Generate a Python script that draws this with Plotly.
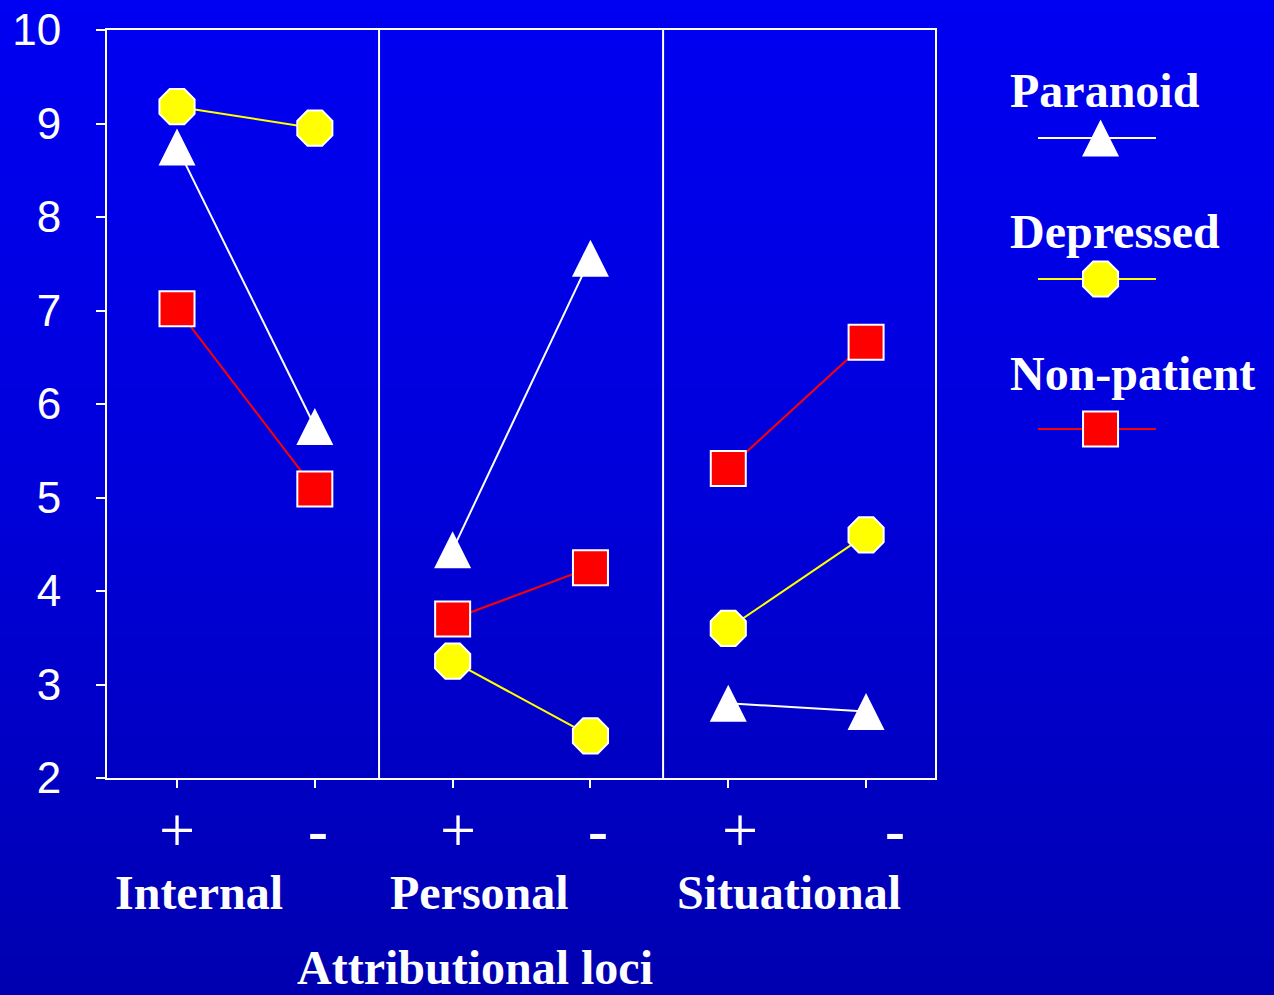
import plotly.graph_objects as go

W, H = 1274, 995

# ---------------- data ----------------
categories = ["Internal +", "Internal -", "Personal +", "Personal -", "Situational +", "Situational -"]
x_pos = [0, 1, 2, 3, 4, 5]
groups = [[0, 1], [2, 3], [4, 5]]  # indices of the points joined within each locus
paranoid = [8.75, 5.76, 4.44, 7.56, 2.80, 2.71]
depressed = [9.18, 8.95, 3.25, 2.45, 3.60, 4.60]
non_patient = [7.02, 5.09, 3.70, 4.25, 5.31, 6.66]
y_ticks = [2, 3, 4, 5, 6, 7, 8, 9, 10]
sign_labels = ["+", "-", "+", "-", "+", "-"]
group_labels = ["Internal", "Personal", "Situational"]
series_names = ["Paranoid", "Depressed", "Non-patient"]
x_title = "Attributional loci"

# ---------------- layout constants (pixels) ----------------
PL, PR, PT, PB = 107, 935, 30, 778
X_RANGE = [-0.508, 5.50]
Y_RANGE = [2, 10]
DIVIDERS = [1.466, 3.527]
TRI = 37
OCT = 38
SQ = 35
px_per_unit = (PB - PT) / (Y_RANGE[1] - Y_RANGE[0])
shift = (TRI / 2) / px_per_unit

SERIF = "Liberation Serif"
SANS = "Liberation Sans"
WHITE = "#ffffff"
YEL = "#ffff00"
RED = "#ff0000"


def fx(p):
    return p / W


def fy(p):
    return 1 - p / H


def segmented(vals):
    xs, ys = [], []
    for g in groups:
        for i in g:
            xs.append(x_pos[i])
            ys.append(vals[i])
        xs.append(None)
        ys.append(None)
    return xs, ys


fig = go.Figure()

# lines (only within each locus)
for vals, col, name in [(paranoid, WHITE, series_names[0]),
                        (depressed, YEL, series_names[1]),
                        (non_patient, RED, series_names[2])]:
    xs, ys = segmented(vals)
    fig.add_trace(go.Scatter(x=xs, y=ys, mode="lines", name=name,
                             line=dict(color=col, width=2), xaxis="x", yaxis="y",
                             showlegend=False, hoverinfo="skip", connectgaps=False))

fig.add_trace(go.Scatter(x=x_pos, y=depressed, mode="markers", name=series_names[1],
                         marker=dict(symbol="octagon", size=OCT, color=YEL,
                                     line=dict(color=WHITE, width=2)),
                         xaxis="x", yaxis="y", showlegend=False))
fig.add_trace(go.Scatter(x=x_pos, y=non_patient, mode="markers", name=series_names[2],
                         marker=dict(symbol="square", size=SQ, color=RED,
                                     line=dict(color=WHITE, width=2)),
                         xaxis="x", yaxis="y", showlegend=False))
# Paranoid markers: arrow-up drawn on an overlay axis shifted by half the marker height,
# so each triangle is centred on its value
fig.add_trace(go.Scatter(x=x_pos, y=paranoid, mode="markers", name=series_names[0],
                         marker=dict(symbol="arrow-up", size=TRI, color=WHITE,
                                     line=dict(width=0)),
                         xaxis="x", yaxis="y3", showlegend=False))

# ---------------- custom legend ----------------
LEG_ROWS = [138, 279, 429]
LEG_TEXT_ROWS = [91, 232, 374]
LEG_MARK_X = 0.53
leg_styles = [
    dict(color=WHITE, symbol="arrow-up", size=TRI, mcolor=WHITE, lw=0),
    dict(color=YEL, symbol="octagon", size=OCT, mcolor=YEL, lw=2),
    dict(color=RED, symbol="square", size=SQ, mcolor=RED, lw=2),
]
for i, (name, row, trow, st) in enumerate(zip(series_names, LEG_ROWS, LEG_TEXT_ROWS, leg_styles)):
    fig.add_trace(go.Scatter(x=[0, 1], y=[row, row], mode="lines",
                             line=dict(color=st["color"], width=2),
                             xaxis="x2", yaxis="y2", showlegend=False, hoverinfo="skip"))
    fig.add_trace(go.Scatter(x=[LEG_MARK_X], y=[row], mode="markers",
                             marker=dict(symbol=st["symbol"], size=st["size"], color=st["mcolor"],
                                         line=dict(color=WHITE, width=st["lw"])),
                             xaxis="x2", yaxis="y4" if i == 0 else "y2",
                             showlegend=False, hoverinfo="skip"))
    fig.add_annotation(x=fx(1008), y=fy(trow), xref="paper", yref="paper",
                       text=f"<b>{name}</b>", showarrow=False, xanchor="left", yanchor="middle",
                       font=dict(family=SERIF, size=48, color=WHITE))

# ---------------- background gradient ----------------
stops = [(0.0, 0xF2), (0.5, 0xDA), (1.0, 0xB0)]


def blue_at(t):
    for (t0, c0), (t1, c1) in zip(stops[:-1], stops[1:]):
        if t <= t1:
            return c0 + (c1 - c0) * (t - t0) / (t1 - t0)
    return stops[-1][1]


shapes = []
NB = 100
for i in range(NB):
    t = (i + 0.5) / NB
    b = int(round(blue_at(t)))
    shapes.append(dict(type="rect", xref="paper", yref="paper", x0=0, x1=1,
                       y0=max(0, 1 - (i + 1) / NB - 0.002), y1=1 - i / NB,
                       fillcolor=f"rgb(0,0,{b})", line=dict(width=0), layer="below"))
for d in DIVIDERS:
    shapes.append(dict(type="line", xref="x", yref="y", x0=d, x1=d, y0=Y_RANGE[0], y1=Y_RANGE[1],
                       line=dict(color=WHITE, width=2)))

# ---------------- text annotations ----------------
SIGN_X = [177, 317.5, 457.8, 598, 739.5, 895]
for lab, sx in zip(sign_labels, SIGN_X):
    if lab == "+":
        fig.add_annotation(x=fx(sx), y=fy(830), xref="paper", yref="paper", text=lab,
                           showarrow=False, xanchor="center", yanchor="middle",
                           font=dict(family=SERIF, size=64, color=WHITE))
    else:
        fig.add_annotation(x=fx(sx), y=fy(830), xref="paper", yref="paper", text="<b>-</b>",
                           showarrow=False, xanchor="center", yanchor="middle",
                           font=dict(family=SERIF, size=60, color=WHITE))

GROUP_X = [198.5, 479, 789]
for lab, gx in zip(group_labels, GROUP_X):
    fig.add_annotation(x=fx(gx), y=fy(892), xref="paper", yref="paper", text=f"<b>{lab}</b>",
                       showarrow=False, xanchor="center", yanchor="middle",
                       font=dict(family=SERIF, size=48, color=WHITE))

fig.add_annotation(x=fx(475), y=0, xref="paper", yref="paper", text=f"<b>{x_title}</b>",
                   showarrow=False, xanchor="center", yanchor="bottom", borderpad=0,
                   font=dict(family=SERIF, size=48, color=WHITE))

axis_common = dict(showgrid=False, zeroline=False, fixedrange=True, automargin=False)

fig.update_layout(
    template="none",
    width=W, height=H,
    margin=dict(l=0, r=0, t=0, b=0, pad=0, autoexpand=False),
    paper_bgcolor="#0000d0",
    plot_bgcolor="rgba(0,0,0,0)",
    showlegend=False,
    shapes=shapes,
    xaxis=dict(domain=[fx(PL), fx(PR)], range=X_RANGE, anchor="y",
               showline=True, linecolor=WHITE, linewidth=2, mirror=True,
               tickmode="array", tickvals=x_pos, ticktext=["" for _ in x_pos],
               ticks="outside", ticklen=8, tickwidth=2, tickcolor=WHITE,
               showticklabels=False, **axis_common),
    yaxis=dict(domain=[fy(PB), fy(PT)], range=Y_RANGE, anchor="x",
               showline=True, linecolor=WHITE, linewidth=2, mirror=True,
               tickmode="array", tickvals=y_ticks,
               ticks="outside", ticklen=9, tickwidth=2, tickcolor=WHITE,
               tickfont=dict(family=SANS, size=44, color=WHITE),
               ticklabelstandoff=26, **axis_common),
    yaxis3=dict(overlaying="y", anchor="x", range=[Y_RANGE[0] - shift, Y_RANGE[1] - shift],
                visible=False, **axis_common),
    xaxis2=dict(domain=[fx(1038), fx(1156)], range=[0, 1], anchor="y2", visible=False, **axis_common),
    yaxis2=dict(domain=[0, 1], range=[H, 0], anchor="x2", visible=False, **axis_common),
    yaxis4=dict(overlaying="y2", anchor="x2", range=[H + TRI / 2, TRI / 2], visible=False,
                **axis_common),
)

fig.write_html("out.html", config={"displayModeBar": False},
               post_script="document.body.style.margin='0';document.body.style.overflow='hidden';")
